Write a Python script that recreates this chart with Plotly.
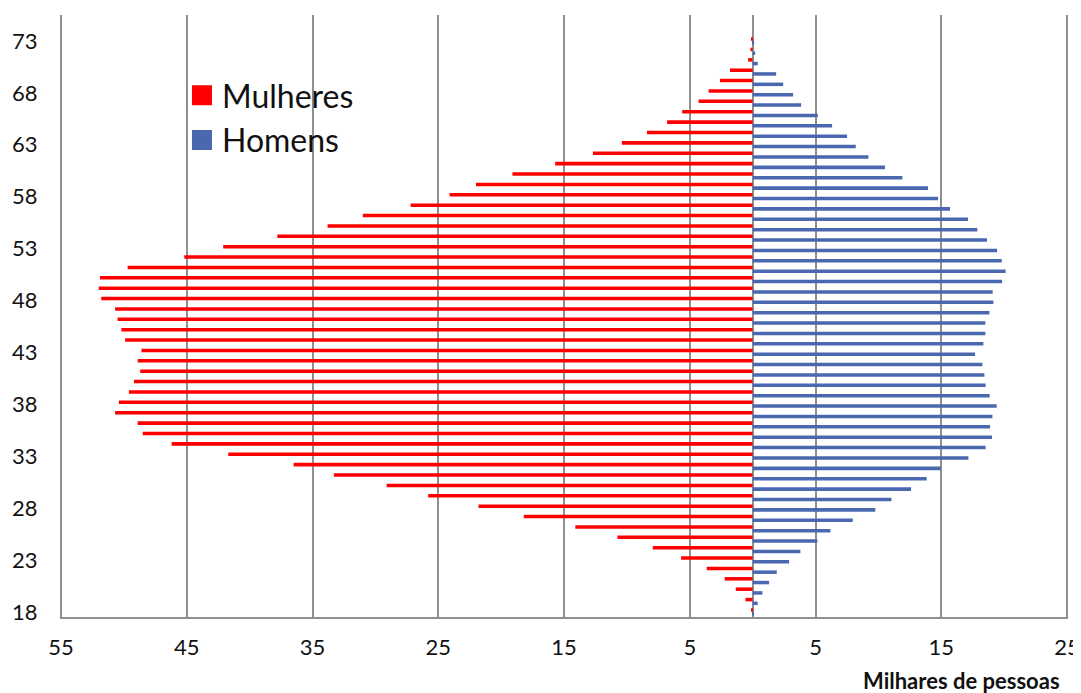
import plotly.graph_objects as go

ages = list(range(18, 74))

mulheres = [0.1, 0.57, 1.34, 2.22, 3.65, 5.69, 7.94, 10.75, 14.1, 18.2,
            21.8, 25.8, 29.1, 33.3, 36.5, 41.7, 46.2, 48.5, 48.9, 50.7,
            50.4, 49.6, 49.2, 48.7, 48.9, 48.6, 49.9, 50.2, 50.5, 50.7,
            51.8, 52.0, 51.9, 49.7, 45.2, 42.1, 37.8, 33.8, 31.0, 27.2,
            24.1, 22.0, 19.1, 15.7, 12.7, 10.4, 8.4, 6.8, 5.6, 4.3,
            3.5, 2.6, 1.8, 0.36, 0.17, 0.1]

homens = [0.05, 0.4, 0.78, 1.31, 1.92, 2.9, 3.8, 5.15, 6.19, 7.96,
          9.76, 11.04, 12.6, 13.84, 14.96, 17.16, 18.53, 19.04, 18.88, 19.07,
          19.41, 18.85, 18.53, 18.43, 18.27, 17.69, 18.35, 18.51, 18.51, 18.83,
          19.15, 19.09, 19.84, 20.12, 19.81, 19.44, 18.64, 17.87, 17.13, 15.70,
          14.75, 13.95, 11.91, 10.53, 9.21, 8.2, 7.51, 6.32, 5.18, 3.86,
          3.22, 2.43, 1.87, 0.41, 0.2, 0.12]

x_tickvals = [-55, -45, -35, -25, -15, -5, 5, 15, 25]
x_ticktext = ["55", "45", "35", "25", "15", "5", "5", "15", "25"]
y_tickvals = [18, 23, 28, 33, 38, 43, 48, 53, 58, 63, 68, 73]

RED = "#FF0000"
BLUE = "#4A68B0"
GRID = "#8F8F8F"
FONT = "Lato"

fig = go.Figure()

fig.add_trace(go.Bar(
    y=ages, x=[-v for v in mulheres], orientation="h",
    offset=0.01, width=0.34,
    marker=dict(color=RED, line=dict(width=0)),
    showlegend=False, name="Mulheres",
))
fig.add_trace(go.Bar(
    y=ages, x=homens, orientation="h",
    offset=-0.35, width=0.34,
    marker=dict(color=BLUE, line=dict(width=0)),
    showlegend=False, name="Homens",
))

# legend entries
for nm, col in [("Mulheres", RED), ("Homens", BLUE)]:
    fig.add_trace(go.Scatter(
        x=[None], y=[None], mode="markers", name=nm,
        marker=dict(symbol="square", size=16, color=col,
                    line=dict(color=col, width=4)),
    ))

# the page adds an 8px body margin, so margins are offset by 8px
fig.update_layout(
    width=1081, height=693,
    margin=dict(l=52, r=21, t=7, b=84),
    paper_bgcolor="white", plot_bgcolor="white",
    barmode="overlay",
    font=dict(family=FONT, color="#111111"),
    legend=dict(
        x=0.121, y=0.912, xanchor="left", yanchor="top",
        font=dict(size=32, family=FONT, color="#111111"),
        bgcolor="rgba(0,0,0,0)", borderwidth=0,
        itemsizing="trace",
    ),
    xaxis=dict(
        range=[-55.08, 25.08], tickvals=x_tickvals, ticktext=x_ticktext,
        showgrid=True, gridcolor=GRID, gridwidth=1.5,
        zeroline=True, zerolinecolor=GRID, zerolinewidth=1.5,
        showline=True, linecolor=GRID, linewidth=1.5,
        ticks="outside", ticklen=10, tickcolor="rgba(0,0,0,0)",
        tickfont=dict(size=22, family=FONT, color="#111111"),
        fixedrange=True, automargin=False,
    ),
    yaxis=dict(
        range=[17.5, 75.5], tickvals=y_tickvals,
        showgrid=False, zeroline=False, showline=False,
        ticks="outside", ticklen=17, tickcolor="rgba(0,0,0,0)",
        tickfont=dict(size=22, family=FONT, color="#111111"),
        fixedrange=True, automargin=False,
    ),
    annotations=[dict(
        text="<b>Milhares de pessoas</b>", xref="paper", yref="paper",
        x=0.894, y=-0.106, xanchor="center", yanchor="middle",
        showarrow=False, font=dict(size=22, family=FONT, color="#111111"),
    )],
)

fig.write_html("out.html")
